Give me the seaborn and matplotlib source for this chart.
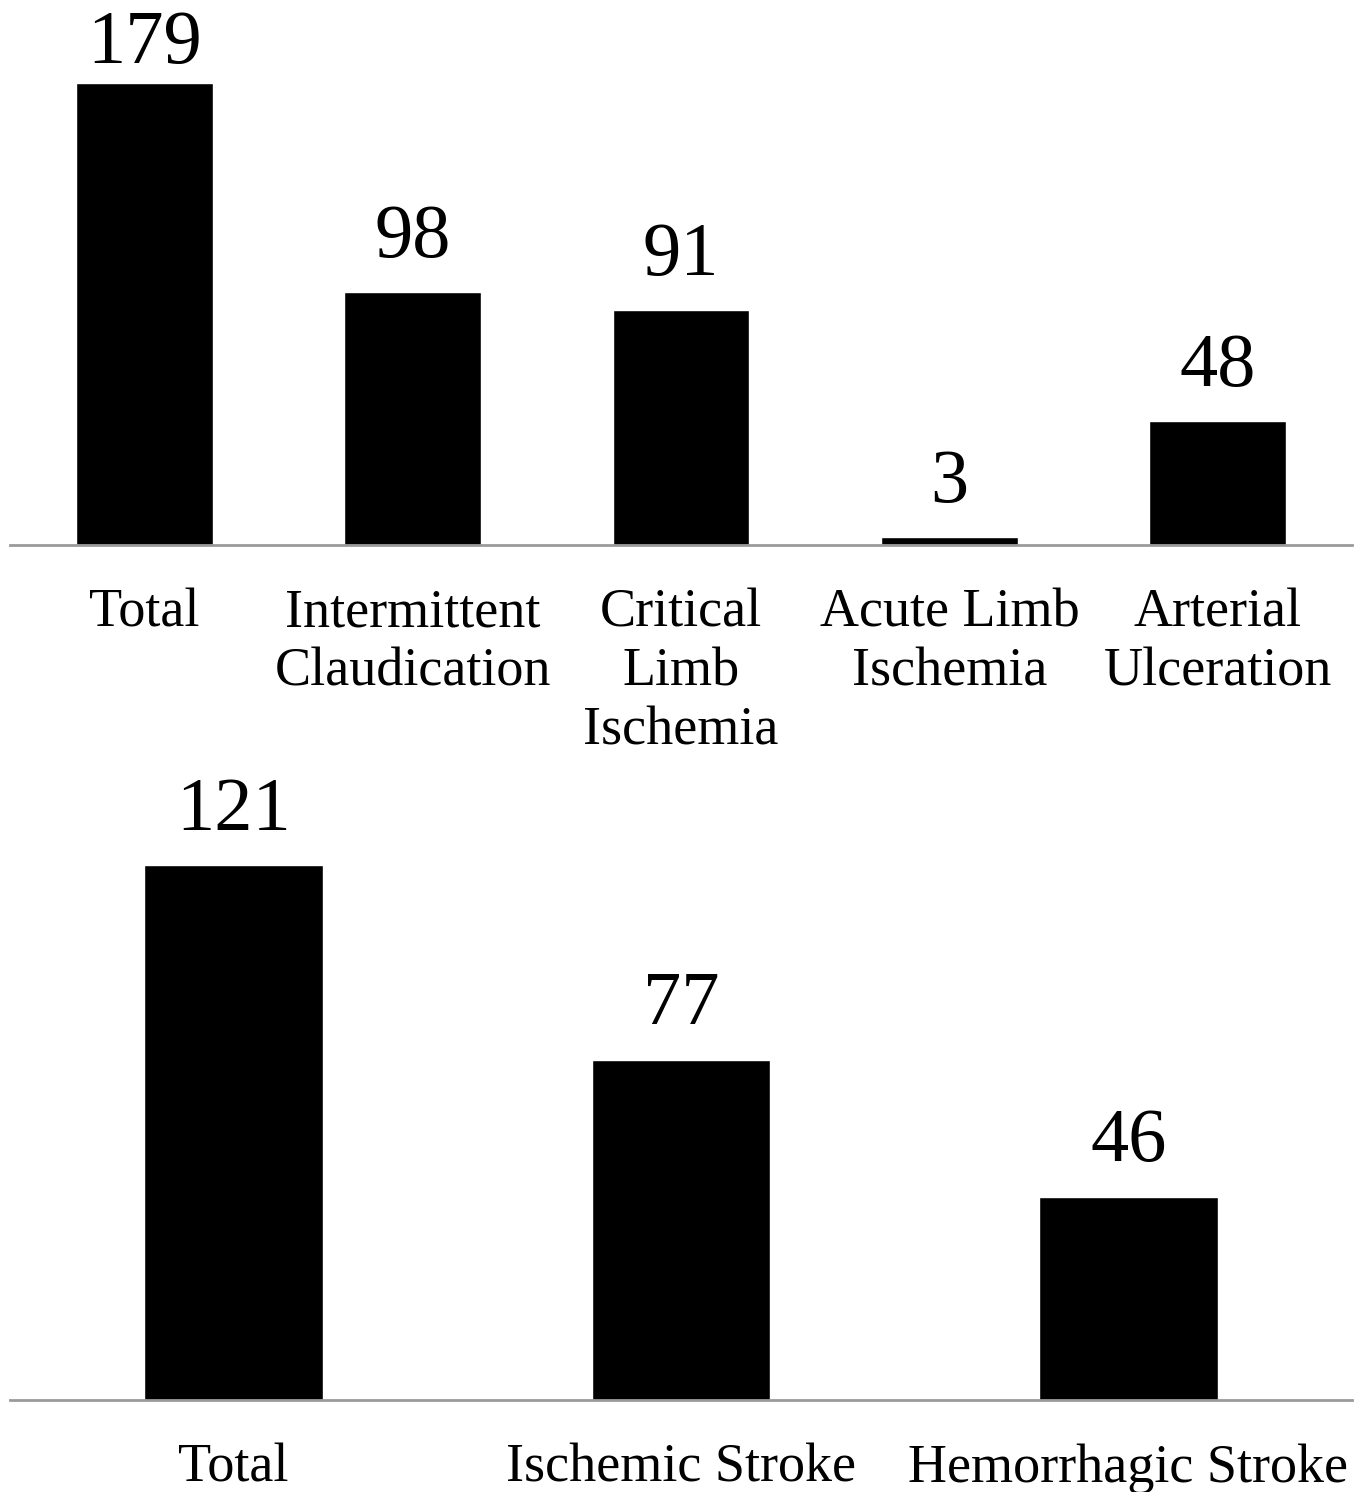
import matplotlib
matplotlib.use("Agg")
import matplotlib.pyplot as plt
import seaborn as sns
import pandas as pd

# PAD subtypes (top panel)
pad_labels = ["Total", "Intermittent\nClaudication", "Critical\nLimb\nIschemia",
              "Acute Limb\nIschemia", "Arterial\nUlceration"]
pad_counts = [179, 98, 91, 3, 48]

# Stroke subtypes (bottom panel)
stroke_labels = ["Total", "Ischemic Stroke", "Hemorrhagic Stroke"]
stroke_counts = [121, 77, 46]

sns.set_theme(style="white")
plt.rcParams['font.family'] = ['Liberation Serif', 'DejaVu Serif']

fig = plt.figure(figsize=(13.66, 14.92), dpi=100)
W, H = 1366, 1492


def panel(rect, labels, counts, ymax, width):
    ax = fig.add_axes(rect)
    df = pd.DataFrame({'cat': labels, 'n': counts})
    sns.barplot(data=df, x='cat', y='n', color='black', saturation=1,
                width=width, ax=ax)
    ax.set_ylim(0, ymax)
    ax.set_xlim(-0.5, len(labels) - 0.5)
    ax.set_xlabel('')
    ax.set_ylabel('')
    ax.set_yticks([])
    for s in ['top', 'left', 'right']:
        ax.spines[s].set_visible(False)
    ax.spines['bottom'].set_color('#9a9a9a')
    ax.spines['bottom'].set_linewidth(2)
    ax.tick_params(axis='x', length=0, pad=31, labelsize=39, labelcolor='black')
    for t in ax.get_xticklabels():
        t.set_linespacing(1.22)
    ann = ax.bar_label(ax.containers[0], padding=14, fontsize=55, color='black')
    return ax, ann


# top panel: baseline at y=545 px, 2.58 px per unit
ax1, ann1 = panel([10 / W, (H - 545) / H, 1342 / W, 545 / H],
                  pad_labels, pad_counts, 545 / 2.58, 0.51)
ann1[0].xyann = (0, 3)

# bottom panel: baseline at y=1400 px, 4.42 px per unit
ax2, ann2 = panel([10 / W, (H - 1400) / H, 1342 / W, 600 / H],
                  stroke_labels, stroke_counts, 600 / 4.42, 0.4)

fig.savefig('out.png', dpi=100)
